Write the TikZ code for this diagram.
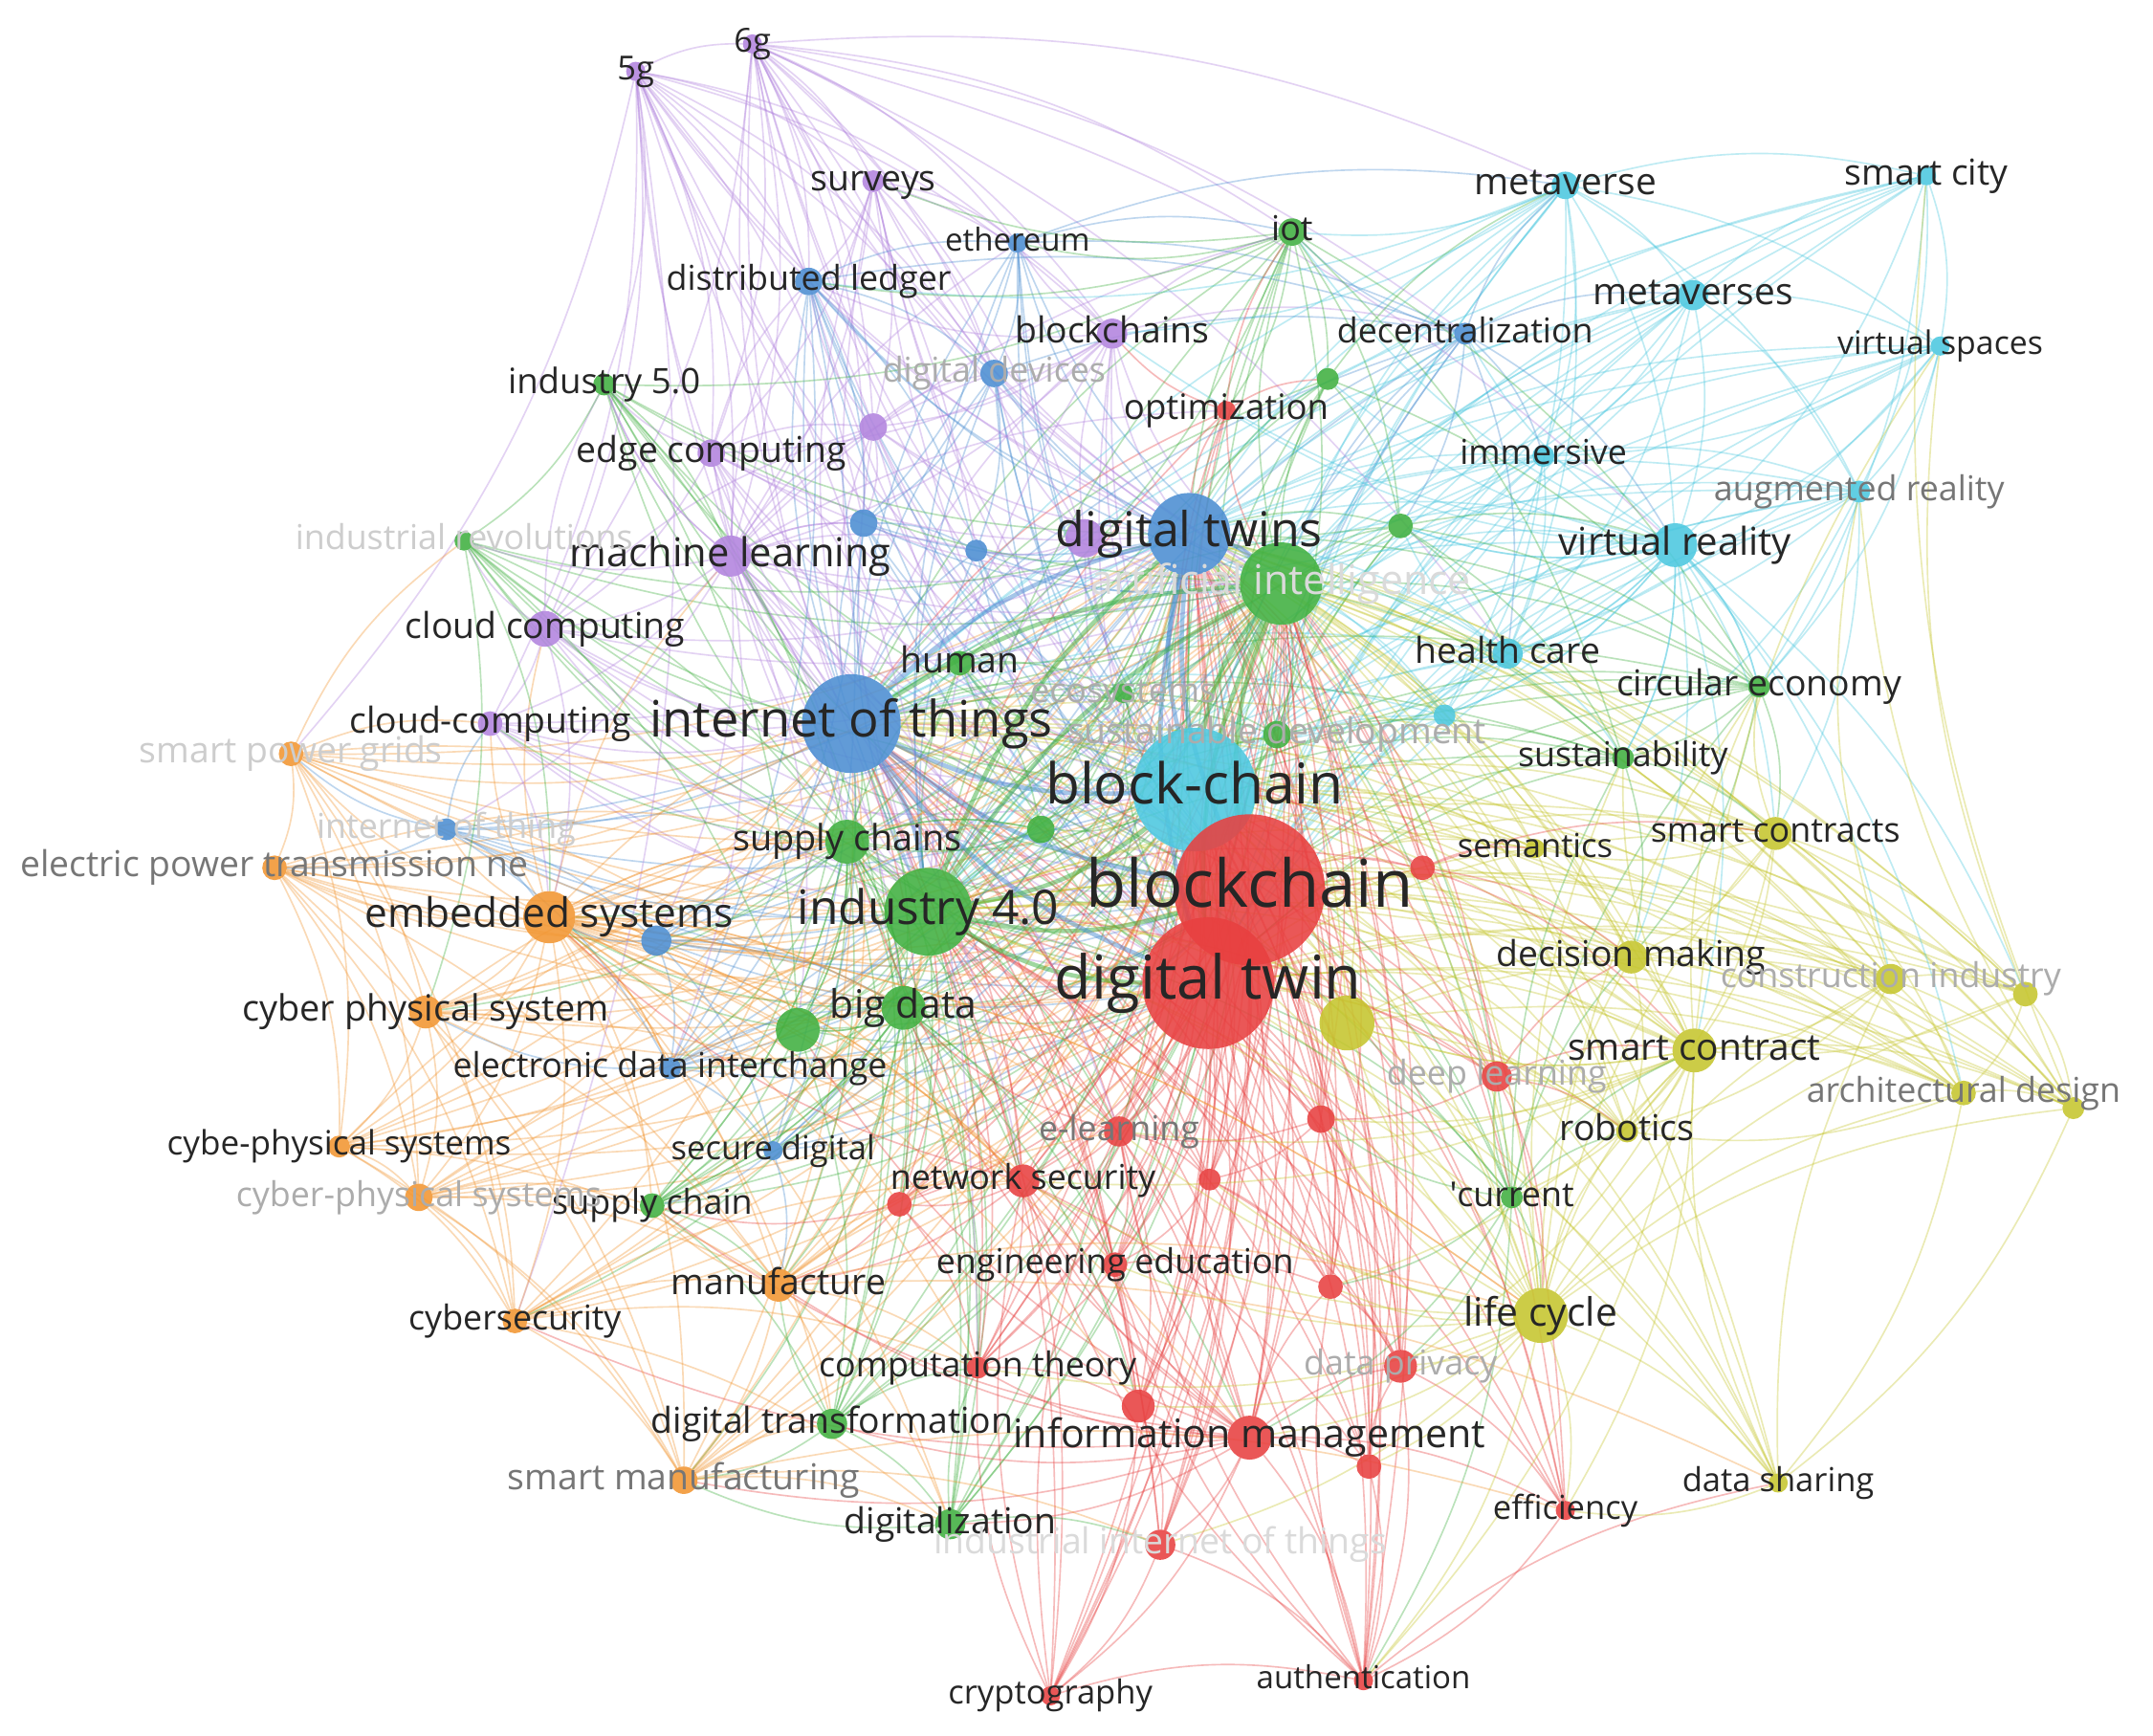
\documentclass[tikz,border=0pt]{standalone}
\usepackage{fontspec}
\setmainfont{Open Sans}
\definecolor{cR}{RGB}{232,64,64}
\definecolor{cG}{RGB}{64,176,64}
\definecolor{cB}{RGB}{76,142,210}
\definecolor{cY}{RGB}{198,198,46}
\definecolor{cP}{RGB}{178,132,222}
\definecolor{cC}{RGB}{76,200,224}
\definecolor{cO}{RGB}{242,150,50}
\definecolor{tD}{RGB}{38,38,38}
\definecolor{tG}{RGB}{118,118,118}
\definecolor{tL}{RGB}{172,172,172}
\definecolor{tLL}{RGB}{205,205,205}
\definecolor{tV}{RGB}{218,218,218}
\pgfdeclarelayer{edgelayer}
\pgfsetlayers{edgelayer,main}
\tikzset{
  dot/.style={circle, inner sep=0pt, outer sep=0pt, draw=none, fill opacity=0.88},
  lab/.style={inner sep=0pt, outer sep=0pt, anchor=center},
  e/.style={draw=#1, draw opacity=0.36, line width=0.65pt, bend left=14},
  eh/.style={draw=#1, draw opacity=0.5, line width=1.8pt, bend left=14},
}
\newcommand\PLst{g5,g6,surv,bcs,edge,ml,cloud,cloud2,p1,p2}
\newcommand\BLst{dl,eth,ddev,dec,b1,b2,iot3,b3,edi,sd}
\newcommand\CLst{meta,scity,metas,vs,imm,ar,vr,hc,c1}
\newcommand\GLst{iot,i50,irev,gr1,gr2,hum,eco,sdev,ce,sus,sc,gr3,bd,gr4,schain,cur,dtr,dig}
\newcommand\RLst{opt,r1,dl2,r2,el,ns,r3,r4,ee,r5,ct,r6,im,r7,dp,eff,iiot,cry,auth}
\newcommand\YLst{scs,sem,dm,ci,y1,scon,y2,ad,y3,rob,lc,ds}
\newcommand\OLst{es,spg,ep,cps,cybe,cyph,cs,man,sm}
\newcommand\NodeList{%
% purple
\KN{g5}{463}{52}{7}{cP}{5g}{13.7}{tD}%
\KN{g6}{548}{32}{7}{cP}{6g}{13.7}{tD}%
\KN{surv}{636}{132}{8}{cP}{surveys}{14.8}{tD}%
\KN{bcs}{810}{243}{11}{cP}{blockchains}{14.8}{tD}%
\KN{edge}{518}{330}{10}{cP}{edge computing}{14.8}{tD}%
\KN{ml}{532}{405}{15}{cP}{machine learning}{16.5}{tD}%
\KN{cloud}{397}{458}{13}{cP}{cloud computing}{14.8}{tD}%
\KN{cloud2}{357}{527}{9}{cP}{cloud-computing}{14.8}{tD}%
\KU{p1}{636}{311}{10}{cP}%
\KU{p2}{790}{392}{14}{cP}%
% blue
\KN{dl}{589}{205}{10}{cB}{distributed ledger}{14.2}{tD}%
\KN{eth}{741}{177}{7}{cB}{ethereum}{13.1}{tD}%
\KN{ddev}{724}{272}{10}{cB}{digital devices}{14.2}{tL}%
\KN{dec}{1067}{243}{8}{cB}{decentralization}{14.2}{tD}%
\KU{b1}{629}{381}{10}{cB}%
\KU{b2}{711}{401}{8}{cB}%
\KN{iot3}{325}{604}{8}{cB}{internet of thing}{14.2}{tLL}%
\KU{b3}{478}{685}{11}{cB}%
\KN{edi}{488}{778}{8}{cB}{electronic data interchange}{14.2}{tD}%
\KN{sd}{563}{838}{7}{cB}{secure digital}{13.7}{tD}%
% cyan
\KN{meta}{1140}{135}{10}{cC}{metaverse}{15.4}{tD}%
\KN{scity}{1403}{128}{7}{cC}{smart city}{14.8}{tD}%
\KN{metas}{1233}{215}{11}{cC}{metaverses}{15.4}{tD}%
\KN{vs}{1413}{252}{7}{cC}{virtual spaces}{13.4}{tD}%
\KN{imm}{1124}{332}{8}{cC}{immersive}{14.2}{tD}%
\KN{ar}{1354}{358}{8}{cC}{augmented reality}{14.2}{tG}%
\KN{vr}{1220}{397}{16}{cC}{virtual reality}{15.9}{tD}%
\KN{hc}{1098}{476}{11}{cC}{health care}{14.8}{tD}%
\KU{c1}{1052}{521}{8}{cC}%
% green
\KN{iot}{941}{169}{10}{cG}{iot}{14.2}{tD}%
\KN{i50}{440}{280}{8}{cG}{industry 5.0}{14.5}{tD}%
\KN{irev}{338}{394}{7}{cG}{industrial revolutions}{14.2}{tLL}%
\KU{gr1}{967}{276}{8}{cG}%
\KU{gr2}{1020}{383}{9}{cG}%
\KN{hum}{699}{483}{9}{cG}{human}{14.8}{tD}%
\KN{eco}{818}{505}{7}{cG}{ecosystems}{14.2}{tL}%
\KN{ce}{1281}{500}{8}{cG}{circular economy}{14.8}{tD}%
\KN{sus}{1182}{552}{8}{cG}{sustainability}{14.2}{tD}%
\KN{sc}{617}{613}{16}{cG}{supply chains}{15.0}{tD}%
\KU{gr3}{758}{604}{10}{cG}%
\KN{bd}{658}{734}{16}{cG}{big data}{16.2}{tD}%
\KU{gr4}{581}{750}{16}{cG}%
\KN{schain}{475}{878}{9}{cG}{supply chain}{14.2}{tD}%
\KN{cur}{1101}{872}{8}{cG}{\textquotesingle current}{14.2}{tD}%
\KN{dtr}{606}{1037}{11}{cG}{digital transformation}{14.8}{tD}%
\KN{dig}{692}{1110}{11}{cG}{digitalization}{14.8}{tD}%
% red
\KN{opt}{893}{299}{7}{cR}{optimization}{14.5}{tD}%
\KU{r1}{1036}{632}{9}{cR}%
\KN{dl2}{1090}{784}{11}{cR}{deep learning}{14.2}{tL}%
\KU{r2}{962}{815}{10}{cR}%
\KN{el}{815}{824}{11}{cR}{e-learning}{14.2}{tG}%
\KN{ns}{745}{860}{12}{cR}{network security}{14.2}{tD}%
\KU{r3}{655}{877}{9}{cR}%
\KU{r4}{881}{859}{8}{cR}%
\KN{ee}{812}{921}{9}{cR}{engineering education}{14.2}{tD}%
\KU{r5}{969}{937}{9}{cR}%
\KN{ct}{712}{996}{8}{cR}{computation theory}{14.2}{tD}%
\KU{r6}{829}{1024}{12}{cR}%
\KN{im}{910}{1047}{16}{cR}{information management}{16.3}{tD}%
\KU{r7}{997}{1068}{9}{cR}%
\KN{dp}{1020}{995}{12}{cR}{data privacy}{14.2}{tL}%
\KN{eff}{1140}{1100}{7}{cR}{efficiency}{13.7}{tD}%
\KN{iiot}{845}{1125}{11}{cR}{industrial internet of things}{14.8}{tV}%
\KN{cry}{765}{1235}{7}{cR}{cryptography}{13.7}{tD}%
\KN{auth}{993}{1224}{7}{cR}{authentication}{13.1}{tD}%
% yellow
\KN{scs}{1293}{607}{12}{cY}{smart contracts}{14.2}{tD}%
\KN{sem}{1118}{618}{7}{cY}{semantics}{13.7}{tD}%
\KN{dm}{1188}{697}{12}{cY}{decision making}{14.8}{tD}%
\KN{ci}{1377}{713}{11}{cY}{construction industry}{14.2}{tL}%
\KU{y1}{1475}{724}{9}{cY}%
\KN{scon}{1234}{765}{16}{cY}{smart contract}{15.4}{tD}%
\KU{y2}{981}{745}{20}{cY}%
\KN{ad}{1430}{796}{9}{cY}{architectural design}{14.2}{tG}%
\KU{y3}{1510}{807}{8}{cY}%
\KN{rob}{1185}{824}{8}{cY}{robotics}{14.8}{tD}%
\KN{lc}{1122}{958}{20}{cY}{life cycle}{16.2}{tD}%
\KN{ds}{1295}{1080}{7}{cY}{data sharing}{13.7}{tD}%
% orange
\KN{es}{400}{668}{19}{cO}{embedded systems}{16.8}{tD}%
\KN{spg}{212}{549}{9}{cO}{smart power grids}{14.8}{tLL}%
\KN{ep}{200}{632}{9}{cO}{electric power transmission ne}{14.8}{tG}%
\KN{cps}{310}{737}{12}{cO}{cyber physical system}{15.0}{tD}%
\KN{cybe}{247}{835}{8}{cO}{cybe-physical systems}{13.9}{tD}%
\KN{cyph}{305}{872}{10}{cO}{cyber-physical systems}{14.2}{tL}%
\KN{cs}{375}{962}{9}{cO}{cybersecurity}{14.2}{tD}%
\KN{man}{567}{936}{12}{cO}{manufacture}{14.8}{tD}%
\KN{sm}{498}{1078}{10}{cO}{smart manufacturing}{14.8}{tG}%
% hubs
\KN{dts}{866}{389}{30}{cB}{digital twins}{19.9}{tD}%
\KN{ai}{933}{425}{30}{cG}{artificial intelligence}{17.0}{tV}%
\KN{sdev}{930}{535}{10}{cG}{sustainable development}{14.8}{tL}%
\KN{iot2}{620}{527}{36}{cB}{internet of things}{20.8}{tD}%
\KN{i40}{676}{664}{32}{cG}{industry 4.0}{19.7}{tD}%
\KN{bch}{870}{575}{45}{cC}{block-chain}{23.3}{tD}%
\KN{dt}{880}{716}{48}{cR}{digital twin}{25.0}{tD}%
\KN{bc}{910}{648}{55}{cR}{blockchain}{27.3}{tD}%
}
\begin{document}
\begin{tikzpicture}[x=0.02cm,y=-0.02cm]
\begin{pgfonlayer}{edgelayer}
\fill[white] (0,0) rectangle (1568,1264);
\end{pgfonlayer}
\useasboundingbox (0,0) rectangle (1568,1264);
% pass 1: circles
\def\KN#1#2#3#4#5#6#7#8{\node[dot, fill=#5, minimum size=#4*0.04cm] (#1) at (#2,#3) {};}
\def\KU#1#2#3#4#5{\node[dot, fill=#5, minimum size=#4*0.04cm] (#1) at (#2,#3) {};}
\NodeList
% pass 2: connectors
\begin{pgfonlayer}{edgelayer}
\foreach \h in {bc,dt,bch,iot2,i40,dts,ai}{
  \foreach \b in \PLst {\draw[e=cP] (\h) to (\b);}
  \foreach \b in \BLst {\draw[e=cB] (\h) to (\b);}
  \foreach \b in \CLst {\draw[e=cC] (\h) to (\b);}
  \foreach \b in \GLst {\draw[e=cG] (\h) to (\b);}
  \foreach \b in \RLst {\draw[e=cR] (\h) to (\b);}
  \foreach \b in \YLst {\draw[e=cY] (\h) to (\b);}
  \foreach \b in \OLst {\draw[e=cO] (\h) to (\b);}
}
\foreach \a/\b/\c in {bc/dt/cR,bc/bch/cC,bc/iot2/cB,bc/i40/cG,bc/dts/cB,bc/ai/cG,
  dt/bch/cC,dt/iot2/cB,dt/i40/cG,dt/dts/cB,dt/ai/cG,bch/iot2/cB,bch/i40/cG,bch/dts/cB,
  bch/ai/cG,iot2/i40/cB,iot2/dts/cB,iot2/ai/cG,i40/dts/cG,i40/ai/cG,dts/ai/cB}
  {\draw[eh=\c] (\a) to (\b);}
% second-tier hubs
\foreach \b in {dl,eth,ddev,b1,b2,iot3,b3,edi,hum,sc,bd,gr4,i50,irev,iot,opt,ns,el}
  {\draw[e=cP] (ml) to (\b);}
\foreach \b in {sc,bd,gr4,gr3,hum,schain,dtr,dig,ns,el,r3,ct,ee,r6,im,lc,iot3,edi,sd,b3,cloud2,ml,cloud}
  {\draw[e=cO] (es) to (\b);}
\foreach \b in {gr1,gr2,iot,sus,ce,hc,c1,scs,dm,scon,ci,ad,y1,sdev,opt,dec,bcs}
  {\draw[e=cC] (vr) to (\b);}
\foreach \b in {dl2,r2,r5,dp,el,ns,cur,sus,ce,y2,r1,sem,eff,auth}
  {\draw[e=cY] (scon) to (\b);}
\foreach \b in {hum,gr3,gr4,bd,schain,dtr,dig,man,cps,es,ns,el,r3,ct,edi,sd,b3,cloud2,irev}
  {\draw[e=cG] (sc) to (\b);}
\foreach \b in {gr4,schain,dtr,dig,man,sm,cs,ns,el,ee,r3,r6,ct,im,sd,edi}
  {\draw[e=cG] (bd) to (\b);}
% purple
\foreach \a/\b in {g5/g6,g5/surv,g5/bcs,g5/edge,g5/ml,g5/cloud,g5/p1,g5/p2,g5/dl,g5/eth,
  g5/ddev,g5/b1,g5/i50,g5/cloud2,g5/spg,g5/ct,g6/surv,g6/bcs,g6/edge,g6/ml,g6/cloud,g6/p1,
  g6/p2,g6/dl,g6/eth,g6/ddev,g6/b1,g6/b2,g6/iot,g6/dec,g6/meta,g6/hc,surv/bcs,surv/dl,
  surv/ml,surv/p1,surv/edge,surv/ddev,bcs/dl,bcs/ml,bcs/p1,bcs/edge,bcs/ddev,bcs/eth,
  bcs/dec,bcs/iot,edge/ml,edge/cloud,edge/p1,edge/i50,edge/dl,ml/cloud,ml/cloud2,ml/p1,
  ml/b1,ml/i50,cloud/cloud2,cloud/i50,cloud/irev,cloud/p1,p1/ddev,p1/dl,p2/ddev,p2/bcs,
  cloud/es,cloud2/es,edge/hum,g5/cs,g6/vr,surv/eth,p1/b1,p2/b2}
  {\draw[e=cP] (\a) to (\b);}
% blue
\foreach \a/\b in {dl/eth,dl/ddev,dl/b1,dl/b2,dl/dec,dl/edi,dl/sd,eth/ddev,eth/dec,eth/b1,
  eth/iot,ddev/b1,ddev/b2,ddev/dec,dec/iot,dec/meta,dec/metas,dec/vr,dec/imm,b1/b2,b1/edi,
  iot3/b3,iot3/es,iot3/edi,iot3/spg,iot3/ep,iot3/cloud2,b3/edi,b3/es,b3/sd,edi/sd,edi/cps,
  sd/schain,sd/man,b3/sc,b3/bd,edi/bd,dec/hc,dec/gr2,eth/meta}
  {\draw[e=cB] (\a) to (\b);}
% cyan
\foreach \a/\b in {meta/metas,meta/scity,meta/vs,meta/imm,meta/ar,meta/vr,meta/hc,meta/iot,
  meta/c1,meta/dl,meta/bcs,metas/vs,metas/imm,metas/ar,metas/vr,metas/hc,metas/scity,
  scity/vs,scity/ar,scity/vr,vs/ar,vs/vr,vs/imm,vs/hc,vs/ce,imm/vr,imm/ar,imm/hc,ar/vr,
  ar/hc,ar/ce,ar/sus,vr/hc,vr/c1,vr/ce,vr/sus,hc/c1,hc/sus,vr/gr2,hc/gr2,metas/gr2,
  meta/gr1,ar/scs,scity/ce,imm/c1}
  {\draw[e=cC] (\a) to (\b);}
% green
\foreach \a/\b in {iot/gr1,iot/gr2,iot/opt,iot/i50,iot/hum,iot/sdev,iot/ce,iot/sus,iot/dl,
  iot/eth,iot/surv,i50/irev,i50/ml,i50/gr4,i50/sc,i50/bd,irev/es,irev/sc,irev/gr4,
  irev/cps,gr1/gr2,gr2/ce,gr2/sus,gr1/ce,hum/eco,hum/sc,hum/gr3,eco/sdev,sdev/sus,sdev/ce,
  ce/sus,ce/scs,sus/scs,sc/gr3,sc/bd,sc/gr4,sc/schain,bd/gr4,bd/schain,gr4/schain,gr4/dtr,
  schain/dtr,schain/man,dtr/dig,dtr/man,dtr/sm,dig/sm,dig/iiot,cur/rob,cur/dm,cur/scon,
  cur/sus,cur/ce,cur/r2,cur/auth,cur/lc,gr4/es,bd/es,gr3/sc,dtr/ct,dig/ct,gr2/hc,
  gr2/vr,gr1/meta,sus/dm,ce/dm,cur/dl2,cur/r5,cur/dp,cur/im}
  {\draw[e=cG] (\a) to (\b);}
% red
\foreach \a/\b in {opt/gr1,opt/bcs,opt/iot,r1/scs,r1/sem,dl2/scon,dl2/rob,dl2/dm,dl2/r2,
  r2/el,r2/r4,r2/r5,el/ns,el/r4,el/ee,ns/r3,ns/ee,ns/ct,ns/r6,r3/ct,r3/schain,r4/r5,r4/ee,
  ee/r5,ee/ct,r5/dp,ct/r6,r6/iiot,r6/cry,r7/auth,r7/dp,dp/auth,dp/eff,eff/auth,iiot/cry,
  iiot/auth,cry/auth,cry/ct,auth/r5,auth/ns,auth/ee,cry/ns,cry/el,auth/el,auth/ds,
  ns/man,ns/es,el/bd,r3/man,r1/dm,r1/scon,dl2/lc,r2/dp,r4/dp,el/r6,ns/r7}
  {\draw[e=cR] (\a) to (\b);}
\foreach \b in {el,ns,r3,r4,ee,r5,ct,r6,r7,dp,eff,iiot,cry,auth,dtr,dig,sm,man,cs,schain,bd,sc,gr4}
  {\draw[e=cR] (im) to (\b);}
% yellow
\foreach \b in {dl2,r2,el,ns,r4,ee,r5,ct,r6,im,r7,dp,eff,iiot,auth,rob,scon,dm,scs,ci,ad,y3,y1,ds,sus,ce,y2}
  {\draw[e=cY] (lc) to (\b);}
\foreach \a/\b in {scs/sem,scs/dm,scs/ci,scs/y1,scs/scon,scs/ad,scs/y3,scs/rob,scs/ce,
  scs/sus,dm/ci,dm/scon,dm/rob,dm/ad,ci/y1,ci/scon,ci/ad,ci/y3,ci/rob,y1/ad,y1/y3,y1/scon,
  scon/ad,scon/y3,scon/rob,scon/y2,ad/y3,ad/rob,ad/ds,y3/ds,ds/ci,ds/eff,y2/dm,sem/dm,
  scon/vs,ci/ar,y3/ar,ds/scon,y2/rob,y2/ci,y2/ad,y1/vs,y3/scity}
  {\draw[e=cY] (\a) to (\b);}
% orange
\foreach \a/\b in {es/spg,es/ep,es/cps,es/cybe,es/cyph,es/cs,es/man,es/sm,es/edi,es/b3,
  spg/ep,spg/cps,spg/cybe,spg/cyph,spg/cloud2,spg/irev,spg/cs,ep/cps,ep/cybe,ep/cyph,ep/cs,
  ep/man,ep/sm,cps/cybe,cps/cyph,cps/cs,cps/man,cps/sm,cybe/cyph,cybe/cs,cybe/man,cybe/sm,
  cyph/cs,cyph/man,cyph/sm,cs/man,cs/sm,man/sm,man/dtr,man/schain,man/ct,sm/dig,sm/dtr,
  man/dig,es/sc,es/bd,es/ns,cps/ns,cs/ns,cyph/schain,sm/iiot,es/lc,man/lc,sm/eff,man/ds,
  ep/ns,spg/ns,cps/bd,cps/sc,cybe/sc,cyph/bd,cs/ct,cs/dig,man/ns,man/el,ep/sc,spg/sc}
  {\draw[e=cO] (\a) to (\b);}
\end{pgfonlayer}
% pass 3: labels
\def\KN#1#2#3#4#5#6#7#8{\node[lab, text=#8, font=\fontsize{#7pt}{#7pt}\selectfont] (l#1) at (#2,#3) {\vphantom{dg}#6};}
\def\KU#1#2#3#4#5{}
\NodeList
\end{tikzpicture}
\end{document}
